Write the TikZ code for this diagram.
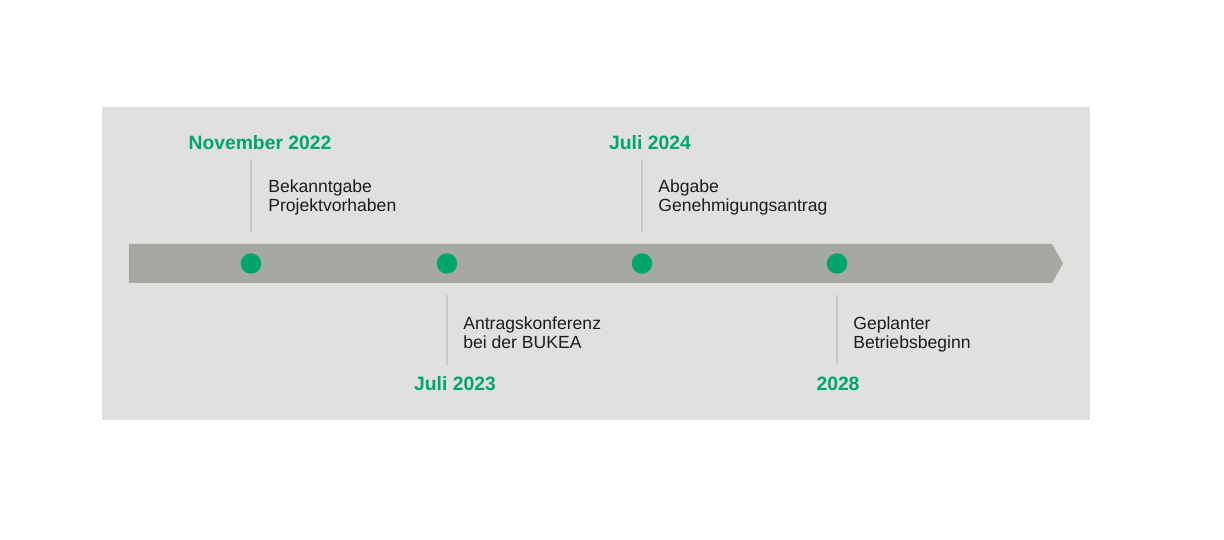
\documentclass[tikz,border=0pt]{standalone}
\usepackage{fontspec}
\setmainfont{Liberation Sans}
\usepackage{tikz}
\usetikzlibrary{calc}

\definecolor{panelgray}{HTML}{E0E0DF}
\definecolor{bargray}{HTML}{A6A8A3}
\definecolor{markgreen}{HTML}{00A66B}
\definecolor{ticklinegray}{HTML}{C9C9C7}
\definecolor{txtdark}{HTML}{1C1C1C}

\begin{document}
\begin{tikzpicture}[x=0.02cm,y=-0.02cm,
  font=\fontsize{10}{11}\selectfont,
  yearn/.style={text=markgreen, font=\fontsize{11}{13}\selectfont\bfseries, inner sep=0pt, anchor=base},
  descn/.style={text=txtdark, align=left, inner sep=0pt, anchor=north west},
  dotn/.style={circle, fill=markgreen, minimum size=20.5pt*0.5689, inner sep=0pt},
  tickl/.style={draw=ticklinegray, line width=0.6pt}]
  \useasboundingbox (0,0) rectangle (1224,540);
  \fill[panelgray] (102,107) rectangle (1090,420);
  \fill[bargray] (129,244) -- (1052,244) -- (1063,263.5) -- (1052,283) -- (129,283) -- cycle;
  \node[dotn] (d1) at (251,263.5) {};
  \node[dotn] (d2) at (447,263.5) {};
  \node[dotn] (d3) at (642,263.5) {};
  \node[dotn] (d4) at (837,263.5) {};
  \node[yearn] (y1) at (260,150) {November 2022};
  \node[yearn] (y3) at (650,150) {Juli 2024};
  \node[yearn] (y2) at (455,391) {Juli 2023};
  \node[yearn] (y4) at (838,391) {2028};
  \node[descn] (t1) at (268,179) {Bekanntgabe\\Projektvorhaben};
  \node[descn] (t3) at (658,179) {Abgabe\\Genehmigungsantrag};
  \node[descn] (t2) at (463,316) {Antragskonferenz\\bei der BUKEA};
  \node[descn] (t4) at (853,316) {Geplanter\\Betriebsbeginn};
  \coordinate (a1) at (251,160);
  \coordinate (a3) at (642,160);
  \coordinate (b2) at (447,365);
  \coordinate (b4) at (837,365);
  \draw[tickl] (a1) -- ($(d1)+(0,-31)$);
  \draw[tickl] (a3) -- ($(d3)+(0,-31)$);
  \draw[tickl] (b2) -- ($(d2)+(0,32)$);
  \draw[tickl] (b4) -- ($(d4)+(0,32)$);
\end{tikzpicture}
\end{document}
